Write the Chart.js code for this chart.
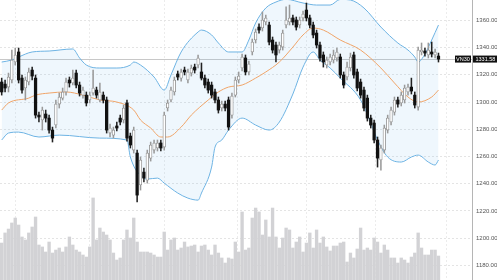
<!DOCTYPE html>
<html>
<head>
<meta charset="utf-8">
<script src="https://cdn.jsdelivr.net/npm/chart.js@4.4.1/dist/chart.umd.min.js"></script>
<style>
  html, body { margin: 0; padding: 0; background: #fff; }
  #wrap { width: 497px; height: 280px; }
</style>
</head>
<body>
<div id="wrap"><canvas id="vnChart" width="497" height="280"></canvas></div>
<script>
const symbol = 'VN30';

// daily candles, oldest first
const opens = [
  1314.7,1313.2,1311.0,1316.2,1329.4,1336.8,1317.6,1310.3,1314.7,1323.5,
  1317.6,1290.4,1286.8,1291.2,1288.2,1279.4,1283.1,1298.5,1302.9,1307.4,
  1316.2,1314.0,1321.3,1312.5,1305.1,1305.1,1301.5,1306.6,1308.8,1301.5,
  1305.1,1301.5,1277.2,1275.7,1282.4,1288.2,1286.8,1299.3,1275.0,1264.7,
  1262.5,1239.0,1248.5,1242.6,1258.8,1264.7,1266.2,1269.9,1266.9,1295.6,
  1301.5,1307.4,1320.6,1317.6,1323.5,1316.2,1321.3,1325.7,1327.2,1322.1,
  1317.6,1314.7,1312.5,1307.4,1301.5,1295.6,1298.5,1301.5,1290.4,1305.1,
  1316.2,1325.0,1332.4,1322.1,1336.8,1345.6,1355.1,1354.4,1358.8,1356.6,
  1345.6,1341.9,1338.2,1340.4,1356.6,1358.8,1361.8,1360.3,1356.6,1361.8,
  1367.6,1361.8,1356.6,1350.7,1341.9,1334.6,1327.2,1329.4,1330.9,1332.4,
  1333.1,1319.9,1318.4,1325.0,1334.6,1322.1,1314.7,1308.8,1302.9,1288.2,
  1284.6,1272.1,1257.4,1264.7,1279.4,1285.3,1292.6,1301.5,1299.3,1301.5,
  1307.4,1311.0,1305.1,1296.3,1336.8,1337.5,1334.6,1336.8,1334.6,1333.8
];
const highs = [
  1317.6,1316.2,1321.3,1338.2,1339.7,1339.7,1319.9,1318.4,1325.0,1325.7,
  1319.9,1292.6,1296.3,1294.1,1290.4,1281.6,1301.5,1306.6,1310.3,1317.6,
  1318.4,1323.5,1323.5,1314.7,1311.0,1307.4,1307.4,1323.5,1311.0,1314.0,
  1307.4,1303.7,1283.8,1281.6,1285.3,1290.4,1297.8,1301.5,1277.2,1281.6,
  1264.7,1259.6,1251.5,1264.7,1270.6,1272.1,1272.1,1272.1,1292.6,1301.5,
  1311.0,1318.4,1322.8,1324.3,1325.7,1324.3,1327.2,1327.9,1334.6,1328.7,
  1319.9,1316.9,1314.7,1309.6,1303.7,1300.7,1300.7,1303.7,1306.6,1318.4,
  1322.1,1335.3,1334.6,1330.1,1346.3,1353.7,1357.4,1366.2,1364.0,1358.8,
  1347.8,1344.1,1344.1,1352.9,1369.9,1371.3,1364.0,1362.5,1362.5,1366.9,
  1372.8,1364.0,1358.8,1352.9,1344.1,1336.8,1333.1,1335.3,1338.2,1339.7,
  1335.3,1322.1,1329.4,1336.0,1336.8,1324.3,1316.9,1311.0,1305.1,1290.4,
  1286.8,1274.3,1268.4,1283.1,1290.4,1296.3,1303.7,1303.7,1307.4,1312.5,
  1313.2,1317.6,1307.4,1340.4,1343.4,1339.7,1343.4,1344.1,1339.0,1336.0
];
const lows = [
  1305.1,1307.4,1307.4,1314.0,1327.2,1314.0,1306.6,1301.5,1312.5,1316.2,
  1288.2,1285.3,1279.4,1285.3,1277.2,1270.6,1280.9,1295.6,1301.5,1305.1,
  1311.0,1312.5,1310.3,1304.4,1302.9,1297.1,1299.3,1305.1,1302.9,1300.0,
  1299.3,1277.2,1274.3,1273.5,1278.7,1283.1,1284.6,1271.3,1266.2,1262.5,
  1226.5,1235.3,1241.2,1240.4,1256.6,1262.5,1264.0,1264.0,1264.7,1293.4,
  1300.0,1305.1,1316.2,1315.4,1319.9,1314.0,1319.1,1321.3,1325.0,1316.2,
  1310.3,1306.6,1302.9,1299.3,1291.9,1293.4,1293.4,1279.4,1288.2,1303.7,
  1314.0,1322.8,1319.9,1319.9,1334.6,1343.4,1350.7,1352.2,1356.6,1341.9,
  1336.0,1329.4,1336.0,1338.2,1354.4,1356.6,1356.6,1352.9,1354.4,1359.6,
  1359.6,1354.4,1347.1,1339.7,1330.1,1325.7,1325.0,1327.2,1328.7,1330.1,
  1317.6,1310.3,1316.2,1322.8,1317.6,1308.1,1302.9,1293.4,1286.0,1280.9,
  1269.9,1252.2,1250.0,1262.5,1277.2,1283.1,1290.4,1296.3,1297.1,1299.3,
  1305.1,1305.9,1295.6,1294.1,1334.6,1333.8,1332.4,1333.1,1332.4,1329.4
];
const closes = [
  1307.4,1310.3,1318.4,1330.9,1334.6,1316.2,1308.8,1316.2,1322.1,1319.1,
  1290.4,1289.0,1294.1,1288.2,1279.4,1273.5,1298.5,1303.7,1307.4,1314.7,
  1314.0,1317.6,1312.5,1306.6,1308.8,1299.3,1305.1,1310.3,1305.1,1307.4,
  1301.5,1279.4,1280.9,1279.4,1280.9,1285.3,1295.6,1273.5,1268.4,1279.4,
  1231.6,1257.4,1244.1,1262.5,1268.4,1269.9,1269.9,1266.2,1290.4,1299.3,
  1308.8,1316.2,1318.4,1322.1,1322.1,1322.1,1325.0,1323.5,1332.4,1317.6,
  1312.5,1308.8,1305.1,1301.5,1294.1,1298.5,1295.6,1281.6,1304.4,1316.2,
  1319.1,1333.1,1322.1,1327.9,1344.1,1351.5,1352.9,1360.3,1361.8,1344.1,
  1338.2,1334.6,1341.9,1350.7,1360.3,1361.8,1358.8,1355.1,1360.3,1364.7,
  1361.8,1356.6,1349.3,1341.9,1332.4,1329.4,1330.9,1333.1,1334.6,1336.8,
  1319.9,1312.5,1325.7,1333.1,1319.9,1310.3,1305.1,1295.6,1288.2,1283.1,
  1272.1,1258.8,1266.2,1280.9,1288.2,1294.1,1301.5,1298.5,1305.1,1310.3,
  1311.0,1308.1,1297.8,1338.2,1338.2,1336.0,1338.2,1335.3,1336.8,1331.58
];
// volume, million shares
const volumes = [
  39.6,50.4,54.6,61.1,66.4,58.9,46.1,42.9,50.4,56.8,
  67.5,37.5,35.4,30.0,40.7,28.9,32.1,34.3,30.0,35.4,
  46.1,37.5,32.1,30.0,26.8,24.6,35.4,87.9,42.9,55.7,
  51.4,48.2,42.9,28.9,21.4,23.6,42.9,53.6,45.0,66.4,
  40.7,30.0,30.0,30.0,28.9,26.8,24.6,24.6,51.4,32.1,
  42.9,45.0,32.1,34.3,40.7,35.4,36.4,37.5,30.0,36.4,
  37.5,32.1,26.8,37.5,28.9,23.6,18.2,23.6,22.5,40.7,
  30.0,72.9,32.1,34.3,66.4,77.1,72.9,48.2,64.3,46.1,
  77.1,46.1,34.3,45.0,55.7,53.6,34.3,40.7,46.1,30.0,
  39.6,50.4,34.3,53.6,39.6,46.1,35.4,31.1,36.4,36.4,
  39.6,40.7,19.3,28.9,23.6,33.2,55.7,32.1,34.3,32.1,
  45.0,40.7,28.9,37.5,32.1,23.6,23.6,18.2,23.6,21.4,
  18.2,24.6,28.9,50.4,34.3,26.8,26.8,32.1,32.1,25.7
];

// bollinger bands read at [candle index, value]
const upperBand = [
  [0,1329.4],[3,1330.9],[5,1333.1],[9,1336.8],[14,1337.5],[21,1339.0],[23,1332.4],
  [25,1327.2],[29,1325.0],[34,1325.0],[38,1327.2],[39,1329.4],[41,1327.2],[45,1318.4],
  [48,1308.8],[50,1319.9],[53,1336.8],[58,1351.5],[59,1352.9],[62,1349.3],[64,1343.4],
  [67,1336.8],[71,1336.8],[73,1345.6],[75,1358.1],[78,1369.1],[81,1373.5],[84,1375.5],
  [89,1372.8],[93,1371.3],[97,1371.3],[100,1375.5],[103,1375.0],[107,1369.1],[112,1355.1],
  [117,1343.4],[120,1338.2],[122,1333.1],[123,1329.4],[125,1335.3],[127,1345.6],[129,1356.6]
];
const middleBand = [
  [0,1294.1],[2,1299.3],[8,1302.9],[10,1305.1],[14,1306.6],[19,1307.4],[24,1305.1],
  [29,1301.5],[34,1300.0],[39,1294.1],[41,1286.8],[44,1280.9],[47,1274.3],[49,1274.3],
  [53,1281.6],[56,1290.4],[61,1301.5],[64,1307.4],[67,1311.0],[71,1312.5],[75,1317.6],
  [78,1322.1],[82,1329.4],[86,1340.4],[89,1349.3],[92,1354.4],[95,1352.9],[100,1345.6],
  [106,1338.2],[112,1325.0],[116,1314.0],[120,1303.7],[123,1300.0],[127,1303.7],[129,1308.8]
];
const lowerBand = [
  [0,1272.1],[2,1277.2],[5,1277.9],[11,1274.3],[17,1275.7],[29,1273.5],[37,1272.1],
  [38,1259.6],[42,1244.1],[43,1243.4],[46,1244.1],[48,1240.4],[52,1233.1],[55,1229.4],
  [58,1227.9],[59,1233.1],[62,1252.2],[63,1266.9],[65,1272.1],[67,1279.4],[71,1288.2],
  [75,1283.1],[79,1279.4],[82,1285.3],[86,1305.9],[89,1325.7],[92,1336.8],[94,1330.9],
  [97,1325.0],[100,1317.6],[106,1301.5],[109,1284.6],[111,1272.1],[114,1259.6],[118,1255.9],
  [121,1259.6],[123,1261.0],[126,1255.9],[128,1253.7],[129,1257.4]
];

const priceTicks = [1180, 1200, 1220, 1240, 1260, 1280, 1300, 1320, 1340, 1360];
// candle index where each new month begins (vertical grid)
const monthStarts = [15, 37, 59, 80, 100, 121];

const xMin = -0.5, xMax = 138.9;
const isUp = i => closes[i] >= opens[i];
const lastClose = closes[closes.length - 1];
const toPoints = band => band.map(([x, y]) => ({ x, y }));

const lastPricePlugin = {
  id: 'lastPrice',
  beforeDatasetsDraw(chart) {
    const { ctx, chartArea } = chart;
    const y = Math.round(chart.scales.y.getPixelForValue(lastClose)) + 0.5;
    ctx.save();
    ctx.strokeStyle = '#c8c8c8';
    ctx.lineWidth = 1;
    ctx.beginPath();
    ctx.moveTo(chartArea.left, y);
    ctx.lineTo(chartArea.right, y);
    ctx.stroke();
    ctx.restore();
  },
  afterDraw(chart) {
    const { ctx, chartArea } = chart;
    const y = chart.scales.y.getPixelForValue(lastClose);
    ctx.save();
    ctx.fillStyle = '#111';
    ctx.fillRect(chartArea.right - 17, y - 3.5, 16, 7);
    ctx.fillRect(chartArea.right + 1, y - 3.5, chart.width - chartArea.right - 1, 7);
    ctx.fillStyle = '#fff';
    ctx.font = '5.5px "Liberation Sans", Arial, sans-serif';
    ctx.textBaseline = 'middle';
    ctx.textAlign = 'center';
    ctx.fillText(symbol, chartArea.right - 9, y + 0.3);
    ctx.textAlign = 'left';
    ctx.fillText(lastClose.toFixed(2), chartArea.right + 3.5, y + 0.3);
    ctx.restore();
  }
};

new Chart(document.getElementById('vnChart'), {
  data: {
    datasets: [
      {
        type: 'bar',
        label: 'Volume',
        yAxisID: 'yVol',
        data: volumes.map((v, i) => ({ x: i, y: v })),
        backgroundColor: '#d2d2d5',
        barThickness: 2.7,
        grouped: false,
        order: 10
      },
      {
        type: 'bar',
        label: 'Wick',
        data: highs.map((h, i) => ({ x: i, y: [lows[i], h] })),
        backgroundColor: highs.map((h, i) => isUp(i) ? '#9a9a9a' : '#222'),
        barThickness: 0.9,
        grouped: false,
        order: 2
      },
      {
        type: 'bar',
        label: symbol,
        data: opens.map((o, i) => ({ x: i, y: [o, closes[i]] })),
        backgroundColor: opens.map((o, i) => isUp(i) ? '#ffffff' : '#111111'),
        borderColor: opens.map((o, i) => isUp(i) ? '#8c8c8c' : '#111111'),
        borderWidth: opens.map((o, i) => isUp(i) ? 0.8 : 0),
        borderSkipped: false,
        barThickness: 2.6,
        minBarLength: 1,
        grouped: false,
        order: 1
      },
      {
        type: 'line',
        label: 'Upper',
        data: toPoints(upperBand),
        borderColor: '#6db3e3',
        borderWidth: 1,
        pointRadius: 0,
        cubicInterpolationMode: 'monotone',
        fill: '+2',
        backgroundColor: 'rgba(120,190,240,0.12)',
        order: 5
      },
      {
        type: 'line',
        label: 'Middle',
        data: toPoints(middleBand),
        borderColor: '#f0a468',
        borderWidth: 1,
        pointRadius: 0,
        cubicInterpolationMode: 'monotone',
        fill: false,
        order: 4
      },
      {
        type: 'line',
        label: 'Lower',
        data: toPoints(lowerBand),
        borderColor: '#6db3e3',
        borderWidth: 1,
        pointRadius: 0,
        cubicInterpolationMode: 'monotone',
        fill: false,
        order: 5
      }
    ]
  },
  options: {
    responsive: false,
    animation: false,
    layout: { padding: 0 },
    plugins: { legend: { display: false }, tooltip: { enabled: false } },
    scales: {
      x: {
        type: 'linear',
        display: true,
        offset: false,
        bounds: 'data',
        min: xMin,
        max: xMax,
        afterBuildTicks: s => {
          s.ticks = monthStarts.map(v => ({ value: v }));
          s.min = xMin;
          s.max = xMax;
        },
        afterFit: s => { s.height = 0; },
        ticks: { display: false },
        grid: { color: '#ececec', drawTicks: false },
        border: { display: false, dash: [2, 2] }
      },
      y: {
        position: 'right',
        min: 1169.2,
        max: 1375,
        afterBuildTicks: s => { s.ticks = priceTicks.map(v => ({ value: v })); },
        afterFit: s => { s.width = 25; s.paddingTop = 0; s.paddingBottom = 0; },
        ticks: {
          color: '#555',
          padding: 4,
          font: { family: 'Liberation Sans', size: 6 },
          callback: v => v.toFixed(2)
        },
        grid: { color: '#e4e4e4', drawTicks: false },
        border: { display: true, color: '#b5b5b5', dash: [2, 2] }
      },
      yVol: {
        display: false,
        min: 0,
        max: 300
      }
    }
  },
  plugins: [lastPricePlugin]
});
</script>
</body>
</html>
